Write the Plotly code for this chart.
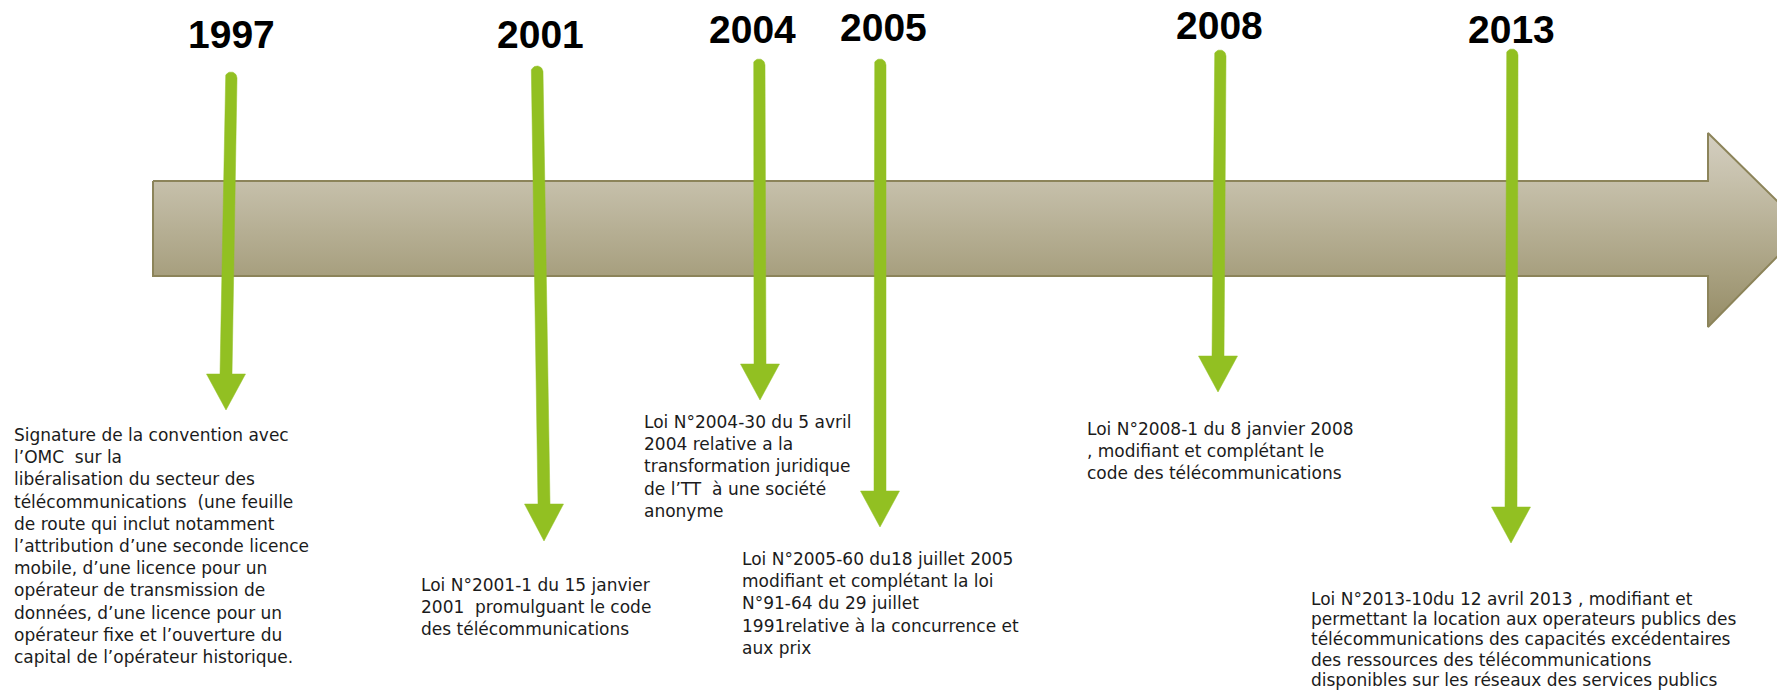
import numpy as np
import plotly.graph_objects as go

W, H = 1785, 691
PAGE_MARGIN = 8  # default body margin of the html page

# ---- data ----
years = ["1997", "2001", "2004", "2005", "2008", "2013"]
label_x = [231, 540, 752, 883, 1219, 1511]
label_y = [34, 34, 29, 27, 25, 29]
shaft_top_x = [231, 537, 759, 880, 1220, 1512]
shaft_bot_x = [226, 544, 760, 880, 1218, 1511]
shaft_top_y = [72, 66, 59, 59, 50, 49]
head_base_y = [374, 504, 364, 491, 356, 507]
tip_y = [410, 541, 400, 527, 392, 543]

descriptions = [
    "Signature de la convention avec<br>l’OMC  sur la<br>libéralisation du secteur des<br>"
    "télécommunications  (une feuille<br>de route qui inclut notamment<br>"
    "l’attribution d’une seconde licence<br>mobile, d’une licence pour un<br>"
    "opérateur de transmission de<br>données, d’une licence pour un<br>"
    "opérateur fixe et l’ouverture du<br>capital de l’opérateur historique.",
    "Loi N°2001-1 du 15 janvier<br>2001  promulguant le code<br>des télécommunications",
    "Loi N°2004-30 du 5 avril<br>2004 relative a la<br>transformation juridique<br>de l’TT  à une société<br>anonyme",
    "Loi N°2005-60 du18 juillet 2005<br>modifiant et complétant la loi<br>N°91-64 du 29 juillet<br>1991relative à la concurrence et<br>aux prix",
    "Loi N°2008-1 du 8 janvier 2008<br>, modifiant et complétant le<br>code des télécommunications",
    "Loi N°2013-10du 12 avril 2013 , modifiant et<br>permettant la location aux operateurs publics des<br>"
    "télécommunications des capacités excédentaires<br>des ressources des télécommunications<br>"
    "disponibles sur les réseaux des services publics",
]
text_x = [12, 419, 642, 740, 1085, 1309]
first_line_y = [435, 585, 422, 559, 429, 599]
line_step = [22.2, 22.2, 22.2, 22.2, 22.2, 20.2]

# big timeline arrow geometry
body_x = [153, 1708]
body_y = [181, 276]
head_y = [133, 327]
head_len = 97

# ---- styles ----
GREEN = "#92C022"
TEXT = "#1b1b1b"
SHAFT_W = 12
HEAD_W = 39

fig = go.Figure()

# main grey arrow
mid = (body_y[0] + body_y[1]) / 2
ax_ = [body_x[0], body_x[1], body_x[1], body_x[1] + head_len, body_x[1], body_x[1], body_x[0], body_x[0]]
ay_ = [body_y[0], body_y[0], head_y[0], mid, head_y[1], body_y[1], body_y[1], body_y[0]]
fig.add_trace(go.Scatter(
    x=ax_, y=ay_, mode="lines", fill="toself",
    line=dict(color="#8C845A", width=2),
    fillgradient=dict(type="vertical", start=head_y[0], stop=head_y[1],
                      colorscale=[[0, "#D4CFC1"], [0.25, "#C6C0AB"], [0.75, "#A69E7D"], [1, "#958C66"]]),
    hoverinfo="skip", showlegend=False,
))

# green arrows
r = SHAFT_W / 2
theta = np.linspace(np.pi, 0, 20)
for tx, bx, ty, hb, tp in zip(shaft_top_x, shaft_bot_x, shaft_top_y, head_base_y, tip_y):
    cap_x = tx + r * np.cos(theta)
    cap_y = ty + r - r * np.sin(theta)
    xs = [bx - r] + list(cap_x) + [bx + r, bx + HEAD_W / 2, bx, bx - HEAD_W / 2, bx - r]
    ys = [hb] + list(cap_y) + [hb, hb, tp, hb, hb]
    fig.add_trace(go.Scatter(
        x=xs, y=ys, mode="lines", fill="toself", fillcolor=GREEN,
        line=dict(color=GREEN, width=0.5), hoverinfo="skip", showlegend=False,
    ))

# year labels
for yr, lx, ly in zip(years, label_x, label_y):
    fig.add_annotation(x=lx, y=ly, text=f"<b>{yr}</b>", showarrow=False,
                       xref="x", yref="y", xanchor="center", yanchor="middle",
                       height=34, valign="middle",
                       font=dict(family="Liberation Sans, Arial", size=39, color="#000000"))

# descriptions, one annotation per line
for d, tx, ty, step in zip(descriptions, text_x, first_line_y, line_step):
    for i, line in enumerate(d.split("<br>")):
        fig.add_annotation(x=tx, y=ty + i * step, text=line, showarrow=False,
                           xref="x", yref="y", xanchor="left", yanchor="middle",
                           align="left",
                           font=dict(family="DejaVu Sans", size=17, color=TEXT))

fig.update_layout(
    width=W - PAGE_MARGIN, height=H - PAGE_MARGIN, autosize=False,
    margin=dict(l=0, r=0, t=0, b=0),
    paper_bgcolor="white", plot_bgcolor="white",
    xaxis=dict(range=[PAGE_MARGIN, W], visible=False, fixedrange=True),
    yaxis=dict(range=[H, PAGE_MARGIN], visible=False, fixedrange=True),
)
fig.write_html("out.html", config={"displayModeBar": False})
